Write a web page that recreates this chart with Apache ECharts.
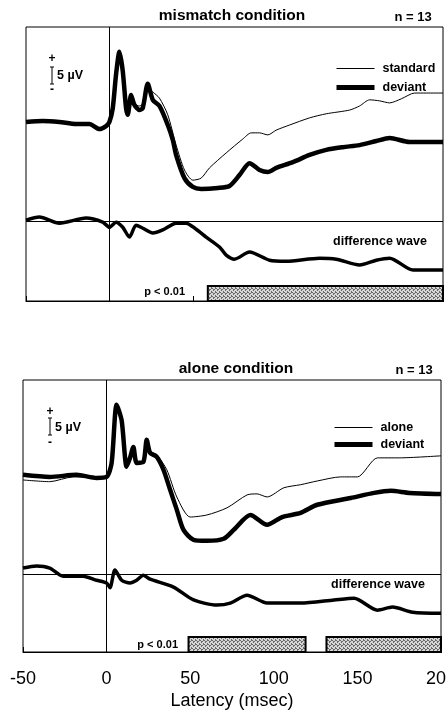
<!DOCTYPE html>
<html>
<head>
<meta charset="utf-8">
<script src="https://cdn.jsdelivr.net/npm/echarts@6/dist/echarts.min.js"></script>
<style>
html, body { margin: 0; padding: 0; background: #fff; }
#chart { width: 446px; height: 710px; }
</style>
</head>
<body>
<div id="chart"></div>
<script>
// latency ticks (msec)
const xTicks = [-50, 0, 50, 100, 150, 200]

// mismatch condition, [latency, µV]
const mismatchStandard = [[-50,0],[-40,0.3],[-30,0],[-20,-0.6],[-12,-0.6],[-6,-2.1],[-2,-1.2],[0,0],[2,3.5],[4,13],[6,19.4],[8,14.7],[10,4.7],[11,2.9],[13,7],[15,5.3],[18,4.7],[20,5.3],[23,10],[26,8.8],[30,7],[35,2.1],[40,-6.8],[45,-14.1],[50,-17.1],[55,-16.5],[60,-13.5],[70,-9.1],[80,-5],[85,-3.2],[90,-3.2],[95,-3.8],[100,-2.4],[108,-0.9],[120,1.2],[130,2.4],[144,3.5],[150,4.7],[156,6.5],[162,6.2],[168,5.6],[175,6.8],[183,8.5],[190,8.5],[200,8.5]]
const mismatchDeviant = [[-50,0],[-40,0.3],[-30,0],[-20,-0.6],[-12,-0.6],[-6,-2.1],[-2,-1.2],[0,0],[2,4],[4,14],[6,20.6],[8,15],[10,4],[11,2.1],[13,7.9],[15,5],[18,3.5],[20,4.1],[23,11.2],[26,6.5],[30,4.7],[35,-0.9],[38,-5.3],[40,-9.7],[45,-16.5],[50,-19.1],[55,-19.7],[65,-19.4],[72,-18.8],[78,-15.6],[84,-12.1],[90,-14.1],[95,-14.7],[100,-13.5],[110,-11.8],[120,-9.7],[130,-8.2],[140,-7.4],[150,-6.8],[160,-5.6],[168,-4.7],[180,-5.9],[190,-5.9],[200,-5.9]]
const mismatchDiff = [[-50,0.3],[-42,1.2],[-30,-0.6],[-14,0.9],[-4,-0.3],[0,-1.8],[4,-0.3],[8,-1.8],[12,-4.7],[16,-1.2],[20,-2.1],[26,-3.5],[32,-2.6],[40,-0.6],[46,-0.6],[52,-2.4],[58,-4.7],[66,-7.6],[70,-10],[75,-11.2],[84,-9.1],[96,-11.5],[106,-11.8],[126,-10.9],[136,-11.2],[150,-12.9],[160,-11.5],[168,-10.9],[182,-14.4],[190,-14.4],[200,-14.4]]
const mismatchSig = [[59, 200]]

// alone condition
const aloneAlone = [[-50,-1.5],[-34,-2],[-20,-0.6],[-6,-0.9],[0,-0.6],[3,3.5],[6,20],[9,15.5],[12,2.6],[14,5],[16,8],[18,3.8],[22,4.1],[24,10],[26,7],[30,5.9],[36,1.5],[42,-6.5],[50,-12.4],[60,-11.8],[72,-9.7],[84,-5.9],[90,-5.6],[96,-6.5],[106,-3.8],[116,-2.9],[126,-1.8],[140,-0.6],[150,-0.6],[162,5],[175,5],[200,5.6]]
const aloneDeviant = [[-50,0],[-34,-0.6],[-18,0],[-6,-0.9],[0,-0.6],[3,3.5],[6,20.6],[9,16],[12,2.4],[14,5],[16,8.2],[18,3.5],[22,3.8],[24,10.3],[26,6.5],[30,5.3],[34,1.5],[38,-4.4],[42,-10.3],[46,-16.2],[52,-19.1],[60,-19.4],[70,-18.8],[76,-16.2],[86,-11.8],[96,-14.7],[105,-12.4],[116,-11.2],[126,-8.8],[146,-6.8],[160,-5.3],[170,-4.7],[181,-5.3],[200,-5.6]]
const aloneDiff = [[-50,1.8],[-42,2.4],[-34,1.8],[-26,-0.6],[-14,-0.6],[-6,-1.8],[0,-2.6],[2,-4],[5,1.2],[9,-1.8],[14,-2.6],[18,-1.8],[22,-0.3],[26,-1.5],[40,-3.8],[52,-7.6],[66,-9.1],[74,-8.5],[84,-6.2],[96,-8.5],[116,-8.5],[136,-7.6],[148,-7.1],[162,-10.6],[171,-9.7],[183,-11.2],[200,-11.5]]
const aloneSig = [[49, 119], [131.5, 200]]

const FONT = 'Liberation Sans, Arial, Helvetica, sans-serif'

// stippled fill for the p < 0.01 bars
const stipple = document.createElement('canvas')
stipple.width = 4
stipple.height = 4
const sctx = stipple.getContext('2d')
sctx.fillStyle = '#d6d6d6'
sctx.fillRect(0, 0, 4, 4)
sctx.fillStyle = '#6a6a6a'
;[[0, 0], [2, 1], [1, 2], [3, 3], [3, 0], [1, 1]].forEach(([px, py]) => sctx.fillRect(px, py, 1, 1))

const chart = echarts.init(document.getElementById('chart'))

const xAxisBase = (gridIndex, showLabel) => ({
  type: 'value',
  gridIndex,
  min: xTicks[0],
  max: xTicks[xTicks.length - 1],
  interval: 50,
  axisLine: { onZero: false, lineStyle: { color: '#000', width: 1 } },
  axisTick: { inside: true, length: 5, lineStyle: { color: '#000' } },
  splitLine: { show: false },
  axisLabel: {
    show: showLabel,
    color: '#000',
    fontSize: 18,
    fontFamily: FONT,
    margin: 18,
    showMinLabel: true,
    showMaxLabel: true
  },
  name: showLabel ? 'Latency (msec)' : '',
  nameLocation: 'middle',
  nameGap: 40,
  nameTextStyle: { color: '#000', fontSize: 18, fontFamily: FONT }
})

const yAxisBase = (gridIndex, min, max) => ({
  type: 'value', gridIndex, min, max, show: false
})

const wave = (name, data, xi, yi, width) => ({
  name,
  type: 'line',
  xAxisIndex: xi,
  yAxisIndex: yi,
  data,
  smooth: 0.25,
  symbol: 'none',
  lineStyle: { color: '#000', width },
  itemStyle: { color: '#000' },
  silent: true
})

const zeroLine = (spec) => ({
  silent: true,
  symbol: 'none',
  label: { show: false },
  lineStyle: { color: '#000', width: 1, type: 'solid' },
  data: [spec]
})

const sigBars = (data, xi, yi) => ({
  type: 'custom',
  xAxisIndex: xi,
  yAxisIndex: yi,
  data,
  encode: { x: [0, 1] },
  silent: true,
  renderItem: (params, api) => {
    const a = api.coord([api.value(0), 0])
    const b = api.coord([api.value(1), 0])
    const cs = params.coordSys
    const h = 15
    return {
      type: 'rect',
      shape: { x: a[0], y: cs.y + cs.height - h, width: b[0] - a[0], height: h },
      style: { fill: { image: stipple, repeat: 'repeat' }, stroke: '#000', lineWidth: 2 }
    }
  }
})

const txt = (text, x, y, size, align, bold) => ({
  type: 'text', x, y, silent: true,
  style: {
    text, fill: '#000', font: (bold ? 'bold ' : '') + size + 'px ' + FONT,
    textAlign: align || 'center', textVerticalAlign: 'middle'
  }
})

const seg = (x1, y1, x2, y2) => ({
  type: 'line', silent: true,
  shape: { x1, y1, x2, y2 },
  style: { stroke: '#000', lineWidth: 1 }
})

const legendBase = (names, top, left, gap) => ({
  orient: 'vertical',
  top, left,
  padding: 0,
  itemWidth: 38,
  itemHeight: 14,
  itemGap: gap,
  selectedMode: false,
  itemStyle: { opacity: 0 },
  textStyle: { color: '#000', fontSize: 12.5, fontWeight: 'bold', fontFamily: FONT, padding: [0, 0, 0, 3] },
  data: names.map((n, i) => ({ name: n, lineStyle: { width: i === 0 ? 1 : 5, color: '#000' } }))
})

const option = {
  animation: false,
  backgroundColor: '#fff',
  grid: [
    { left: 26, right: 3, top: 27, bottom: 409, outerBoundsMode: 'none', show: true, borderColor: '#000', borderWidth: 1 },
    { left: 23, right: 5, top: 380, bottom: 58, outerBoundsMode: 'none', show: true, borderColor: '#000', borderWidth: 1 }
  ],
  xAxis: [xAxisBase(0, false), xAxisBase(1, true)],
  yAxis: [
    // µV scales: ERP baseline and difference-wave baseline share each panel
    yAxisBase(0, -52.6, 27.9),
    yAxisBase(0, -23.5, 57.1),
    yAxisBase(1, -52.1, 27.9),
    yAxisBase(1, -22.9, 57.1)
  ],
  legend: [
    legendBase(['standard', 'deviant'], 62, 334, 6),
    legendBase(['alone', 'deviant'], 421, 332, 4)
  ],
  series: [
    wave('standard', mismatchStandard, 0, 0, 1),
    Object.assign(wave('deviant', mismatchDeviant, 0, 0, 4.5), { markLine: zeroLine({ xAxis: 0 }) }),
    Object.assign(wave('difference wave', mismatchDiff, 0, 1, 3.5), { markLine: zeroLine({ yAxis: 0 }) }),
    sigBars(mismatchSig, 0, 1),
    wave('alone', aloneAlone, 1, 2, 1),
    Object.assign(wave('deviant', aloneDeviant, 1, 2, 4.5), { markLine: zeroLine({ xAxis: 0 }) }),
    Object.assign(wave('difference wave', aloneDiff, 1, 3, 3.5), { markLine: zeroLine({ yAxis: 0 }) }),
    sigBars(aloneSig, 1, 3)
  ],
  graphic: [
    txt('mismatch condition', 232, 16, 15.5, 'center', true),
    txt('n = 13', 413, 17, 13, 'center', true),
    txt('alone condition', 236, 369, 15.5, 'center', true),
    txt('n = 13', 414, 370, 13, 'center', true),
    // scale bars
    txt('+', 52, 59, 12, 'center', true),
    seg(52, 67, 52, 84), seg(50, 67, 54, 67), seg(50, 84, 54, 84),
    txt('5 µV', 57, 76, 12.5, 'left', true),
    txt('-', 52, 90, 12, 'center', true),
    txt('+', 50, 412, 12, 'center', true),
    seg(50, 418, 50, 435), seg(48, 418, 52, 418), seg(48, 435, 52, 435),
    txt('5 µV', 55, 428, 12.5, 'left', true),
    txt('-', 50, 443, 12, 'center', true),
    txt('difference wave', 380, 242, 12.5, 'center', true),
    txt('difference wave', 378, 585, 12.5, 'center', true),
    txt('p < 0.01', 185, 292, 11, 'right', true),
    txt('p < 0.01', 178, 645, 11, 'right', true)
  ]
}

chart.setOption(option)
</script>
</body>
</html>
